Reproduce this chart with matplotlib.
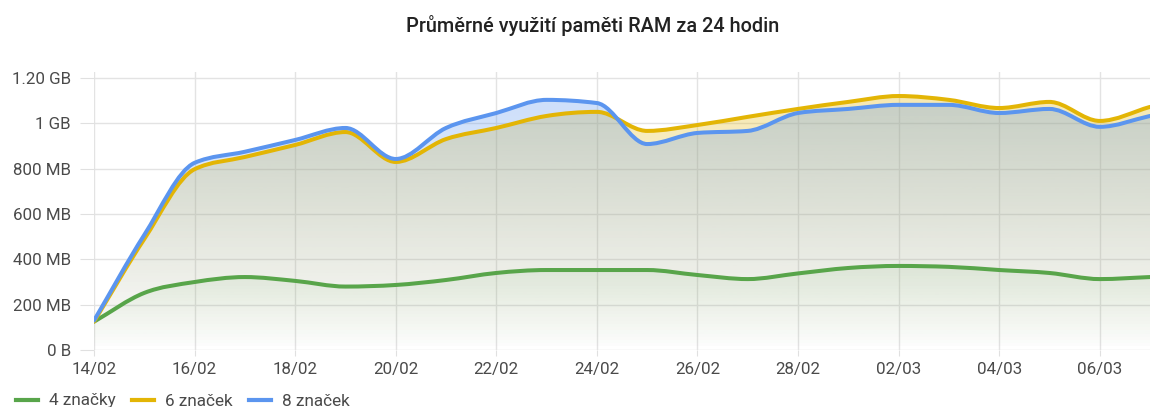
import matplotlib
matplotlib.use('Agg')
import matplotlib.pyplot as plt
import matplotlib.dates as mdates
from matplotlib.path import Path
from matplotlib.patches import PathPatch
from matplotlib.lines import Line2D
import numpy as np
import pandas as pd

plt.rcParams['font.family'] = ['Roboto', 'DejaVu Sans']

# data (MB)
dates = pd.date_range('2023-02-14', '2023-03-07', freq='D')
ram_4 = [125, 252, 300, 322, 305, 280, 287, 309, 340, 353, 353, 353,
         331, 313, 338, 362, 371, 367, 353, 340, 313, 322]
ram_6 = [125, 490, 798, 852, 905, 962, 830, 931, 980, 1033, 1051, 967,
         993, 1029, 1064, 1095, 1121, 1104, 1068, 1095, 1011, 1073]
ram_8 = [130, 508, 826, 875, 927, 980, 843, 980, 1046, 1104, 1090, 909,
         958, 967, 1046, 1064, 1082, 1082, 1046, 1064, 985, 1033]
labels = ['4 značky', '6 značek', '8 značek']
colors = ['#58a54a', '#e3b505', '#5b95ef']
y_ticks = [0, 200, 400, 600, 800, 1000, 1200]
y_labels = ['0 B', '200 MB', '400 MB', '600 MB', '800 MB', '1 GB', '1.20 GB']
title = 'Průměrné využití paměti RAM za 24 hodin'

YTOP = 1227


def smooth_path(x, y, close=False):
    # monotone cubic bezier through the points
    x = np.asarray(x, float)
    y = np.asarray(y, float)
    h = np.diff(x)
    d = np.diff(y) / h
    m = np.zeros_like(y)
    m[0], m[-1] = d[0], d[-1]
    for k in range(1, len(y) - 1):
        s0, s1 = d[k - 1], d[k]
        p = (s0 * h[k] + s1 * h[k - 1]) / (h[k - 1] + h[k])
        m[k] = (np.sign(s0) + np.sign(s1)) * min(abs(s0), abs(s1), 0.5 * abs(p))
    verts = [(x[0], y[0])]
    codes = [Path.MOVETO]
    for k in range(len(y) - 1):
        verts += [(x[k] + h[k] / 3, y[k] + m[k] * h[k] / 3),
                  (x[k + 1] - h[k] / 3, y[k + 1] - m[k + 1] * h[k] / 3),
                  (x[k + 1], y[k + 1])]
        codes += [Path.CURVE4] * 3
    if close:
        verts += [(x[-1], 0), (x[0], 0), (x[0], y[0])]
        codes += [Path.LINETO, Path.LINETO, Path.CLOSEPOLY]
    return Path(verts, codes)


fig = plt.figure(figsize=(11.52, 4.07), dpi=100)
ax = fig.add_axes([94 / 1152, 1 - 350 / 407, (1150 - 94) / 1152, (350 - 72) / 407])

xs = mdates.date2num(dates)
ax.set_xlim(xs[0], xs[-1])
ax.set_ylim(0, YTOP)

# gradient area fills
for vals, c, z in zip([ram_4, ram_6, ram_8], colors, [2, 3, 4]):
    fill = PathPatch(smooth_path(xs, vals, close=True), facecolor='none',
                     edgecolor='none')
    ax.add_patch(fill)
    grad = np.zeros((256, 1, 4))
    grad[:, 0, :3] = matplotlib.colors.to_rgb(c)
    grad[:, 0, 3] = np.linspace(0, 0.34, 256)
    im = ax.imshow(grad, extent=[xs[0], xs[-1], 0, YTOP], origin='lower',
                   aspect='auto', zorder=z)
    im.set_clip_path(fill)

# lines
for vals, c, z in zip([ram_4, ram_6, ram_8], colors, [5, 6, 7]):
    ax.add_patch(PathPatch(smooth_path(xs, vals), facecolor='none',
                           edgecolor=c, lw=2.9, capstyle='round',
                           joinstyle='round', zorder=z))

ax.set_xticks(xs[::2])
ax.set_xticklabels([d.strftime('%d/%m') for d in dates[::2]])
ax.set_yticks(y_ticks)
ax.set_yticklabels(y_labels)
ax.grid(True, color='#e3e3e3', lw=1)
ax.set_axisbelow(True)
for s in ax.spines.values():
    s.set_visible(False)
ax.tick_params(axis='both', colors='#e0e0e0', labelcolor='#4a4a4a',
               labelsize=12.2)
ax.tick_params(axis='x', length=4.3, pad=4)
ax.tick_params(axis='y', length=10, pad=6.5)

t = fig.text(593 / 1152, 1 - 26 / 407, title, ha='center', va='center',
             fontsize=13.5, color='#222222', fontweight='medium')
# scale title to the width in the original (~374 px)
fig.canvas.draw()
w = t.get_window_extent().width
t.set_fontsize(13.5 * 374 / w)

handles = [Line2D([0], [0], color=c, lw=3) for c in colors]
fig.legend(handles, labels, loc='center left', bbox_to_anchor=(16 / 1152, 1 - 401 / 407),
           ncol=3, frameon=False, fontsize=12.3, handlelength=1.3,
           handletextpad=0.64, columnspacing=0.94, labelcolor='#4a4a4a',
           borderaxespad=0, borderpad=0)

fig.savefig('out.png', dpi=100)
